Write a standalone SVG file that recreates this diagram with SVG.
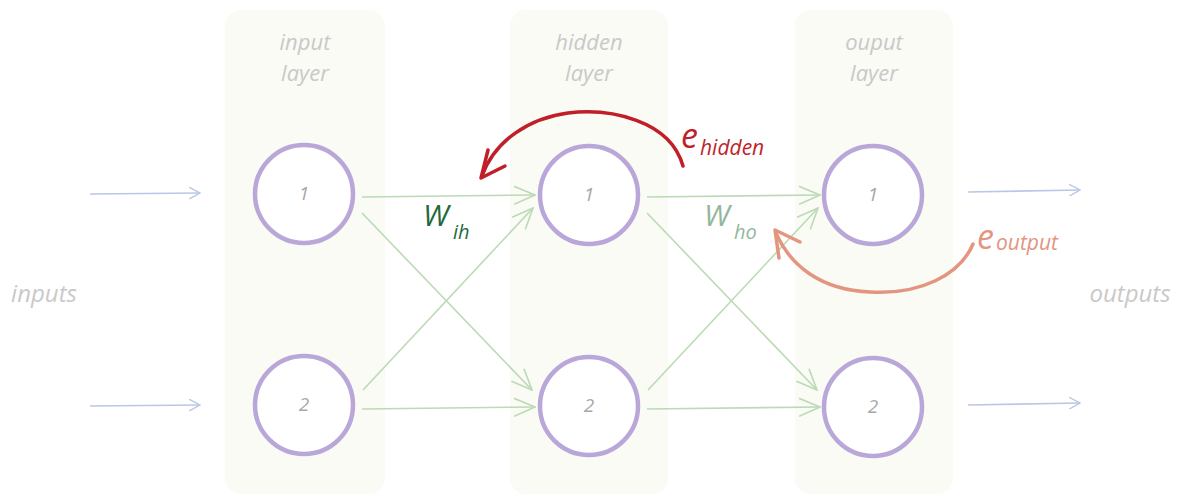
<svg xmlns="http://www.w3.org/2000/svg" width="1181" height="495" viewBox="0 0 1181 495">
<style>
.panel{fill:#f9fbf4;}
.node{fill:#ffffff;stroke:#b9a7d9;stroke-width:4.5;}
.num{font-family:"Open Sans",sans-serif;font-style:italic;font-size:19px;fill:#a8a8a8;text-anchor:middle;}
.lbl{font-family:"Open Sans",sans-serif;font-style:italic;font-size:24px;fill:#c9c9c9;text-anchor:middle;}
.ll{font-family:"Open Sans",sans-serif;font-style:italic;font-size:22px;fill:#c9c9c9;text-anchor:middle;}
.io{stroke:#b9c8e6;stroke-width:1.6;fill:none;}
.w{stroke:#bcdab6;stroke-width:1.6;fill:none;}
.hand{font-family:"Open Sans",sans-serif;font-style:italic;}
</style>
<defs>
<marker id="aBlue" viewBox="0 0 12 12" refX="11" refY="6" markerWidth="12" markerHeight="12" markerUnits="userSpaceOnUse" orient="auto">
<path d="M0,0 L11,6 L0,12" fill="none" stroke="#b9c8e6" stroke-width="1.4"/>
</marker>
<marker id="aGreen" viewBox="0 0 22 22" refX="21" refY="11" markerWidth="22" markerHeight="22" markerUnits="userSpaceOnUse" orient="auto">
<path d="M0,2 L21,11 L0,20" fill="none" stroke="#bcdab6" stroke-width="1.6"/>
</marker>
</defs>
<rect width="1181" height="495" fill="#ffffff"/>
<g id="panel-input"><rect class="panel" x="225" y="10" width="160" height="484" rx="16"/>
<text class="ll" x="305" y="50">input</text><text class="ll" x="305" y="81">layer</text></g>
<g id="panel-hidden"><rect class="panel" x="510" y="10" width="158" height="484" rx="16"/>
<text class="ll" x="589" y="50">hidden</text><text class="ll" x="589" y="81">layer</text></g>
<g id="panel-output"><rect class="panel" x="795" y="10" width="158" height="484" rx="16"/>
<text class="ll" x="874" y="50">ouput</text><text class="ll" x="874" y="81">layer</text></g>
<g id="label-inputs"><text class="lbl" x="44" y="302">inputs</text></g>
<g id="label-outputs"><text class="lbl" x="1130" y="302">outputs</text></g>
<g id="connectors">
<line class="io" x1="90" y1="194" x2="200" y2="193" marker-end="url(#aBlue)"/>
<line class="io" x1="90" y1="406" x2="200" y2="405" marker-end="url(#aBlue)"/>
<line class="io" x1="968" y1="192" x2="1080" y2="190" marker-end="url(#aBlue)"/>
<line class="io" x1="968" y1="405" x2="1080" y2="403" marker-end="url(#aBlue)"/>
<line class="w" x1="362" y1="197" x2="535" y2="195" marker-end="url(#aGreen)"/>
<line class="w" x1="362" y1="213" x2="532" y2="390" marker-end="url(#aGreen)"/>
<line class="w" x1="363" y1="390" x2="533" y2="208" marker-end="url(#aGreen)"/>
<line class="w" x1="362" y1="409" x2="535" y2="407" marker-end="url(#aGreen)"/>
<line class="w" x1="647" y1="197" x2="820" y2="195" marker-end="url(#aGreen)"/>
<line class="w" x1="647" y1="213" x2="817" y2="390" marker-end="url(#aGreen)"/>
<line class="w" x1="648" y1="390" x2="818" y2="208" marker-end="url(#aGreen)"/>
<line class="w" x1="647" y1="409" x2="820" y2="407" marker-end="url(#aGreen)"/>
<path d="M683,166 C670,120 610,108 568,113 C530,118 495,140 482,176" fill="none" stroke="#c01f2a" stroke-width="3.5" stroke-linecap="round"/>
<path d="M488,150 L481,178 L505,166" fill="none" stroke="#c01f2a" stroke-width="3.5" stroke-linecap="round" stroke-linejoin="round"/>
<path d="M973,244 C960,275 920,295 870,292 C820,290 790,265 776,233" fill="none" stroke="#e39580" stroke-width="3.5" stroke-linecap="round"/>
<path d="M779,258 L775,230 L800,242" fill="none" stroke="#e39580" stroke-width="3.5" stroke-linecap="round" stroke-linejoin="round"/>
</g>
<g id="node-i1"><circle class="node" cx="304" cy="194" r="49"/><text class="num" x="304" y="200">1</text></g>
<g id="node-i2"><circle class="node" cx="304" cy="405" r="49"/><text class="num" x="304" y="411">2</text></g>
<g id="node-h1"><circle class="node" cx="589" cy="195" r="49"/><text class="num" x="589" y="201">1</text></g>
<g id="node-h2"><circle class="node" cx="589" cy="406" r="49"/><text class="num" x="589" y="412">2</text></g>
<g id="node-o1"><circle class="node" cx="873" cy="195" r="49"/><text class="num" x="873" y="201">1</text></g>
<g id="node-o2"><circle class="node" cx="873" cy="407" r="49"/><text class="num" x="873" y="413">2</text></g>
<g id="label-wih"><text class="hand" x="423" y="226" font-size="30" fill="#1f6b3b">W</text><text class="hand" x="453" y="239" font-size="20" fill="#1f6b3b">ih</text></g>
<g id="label-who"><text class="hand" x="704" y="226" font-size="30" fill="#93b79c">W</text><text class="hand" x="734" y="239" font-size="20" fill="#93b79c">ho</text></g>
<g id="label-ehidden"><text class="hand" x="681" y="148" font-size="34" fill="#c01f2a">e</text><text class="hand" x="700" y="155" font-size="21" fill="#c01f2a">hidden</text></g>
<g id="label-eoutput"><text class="hand" x="977" y="249" font-size="34" fill="#e39580">e</text><text class="hand" x="996" y="250" font-size="21" fill="#e39580">output</text></g>
</svg>
